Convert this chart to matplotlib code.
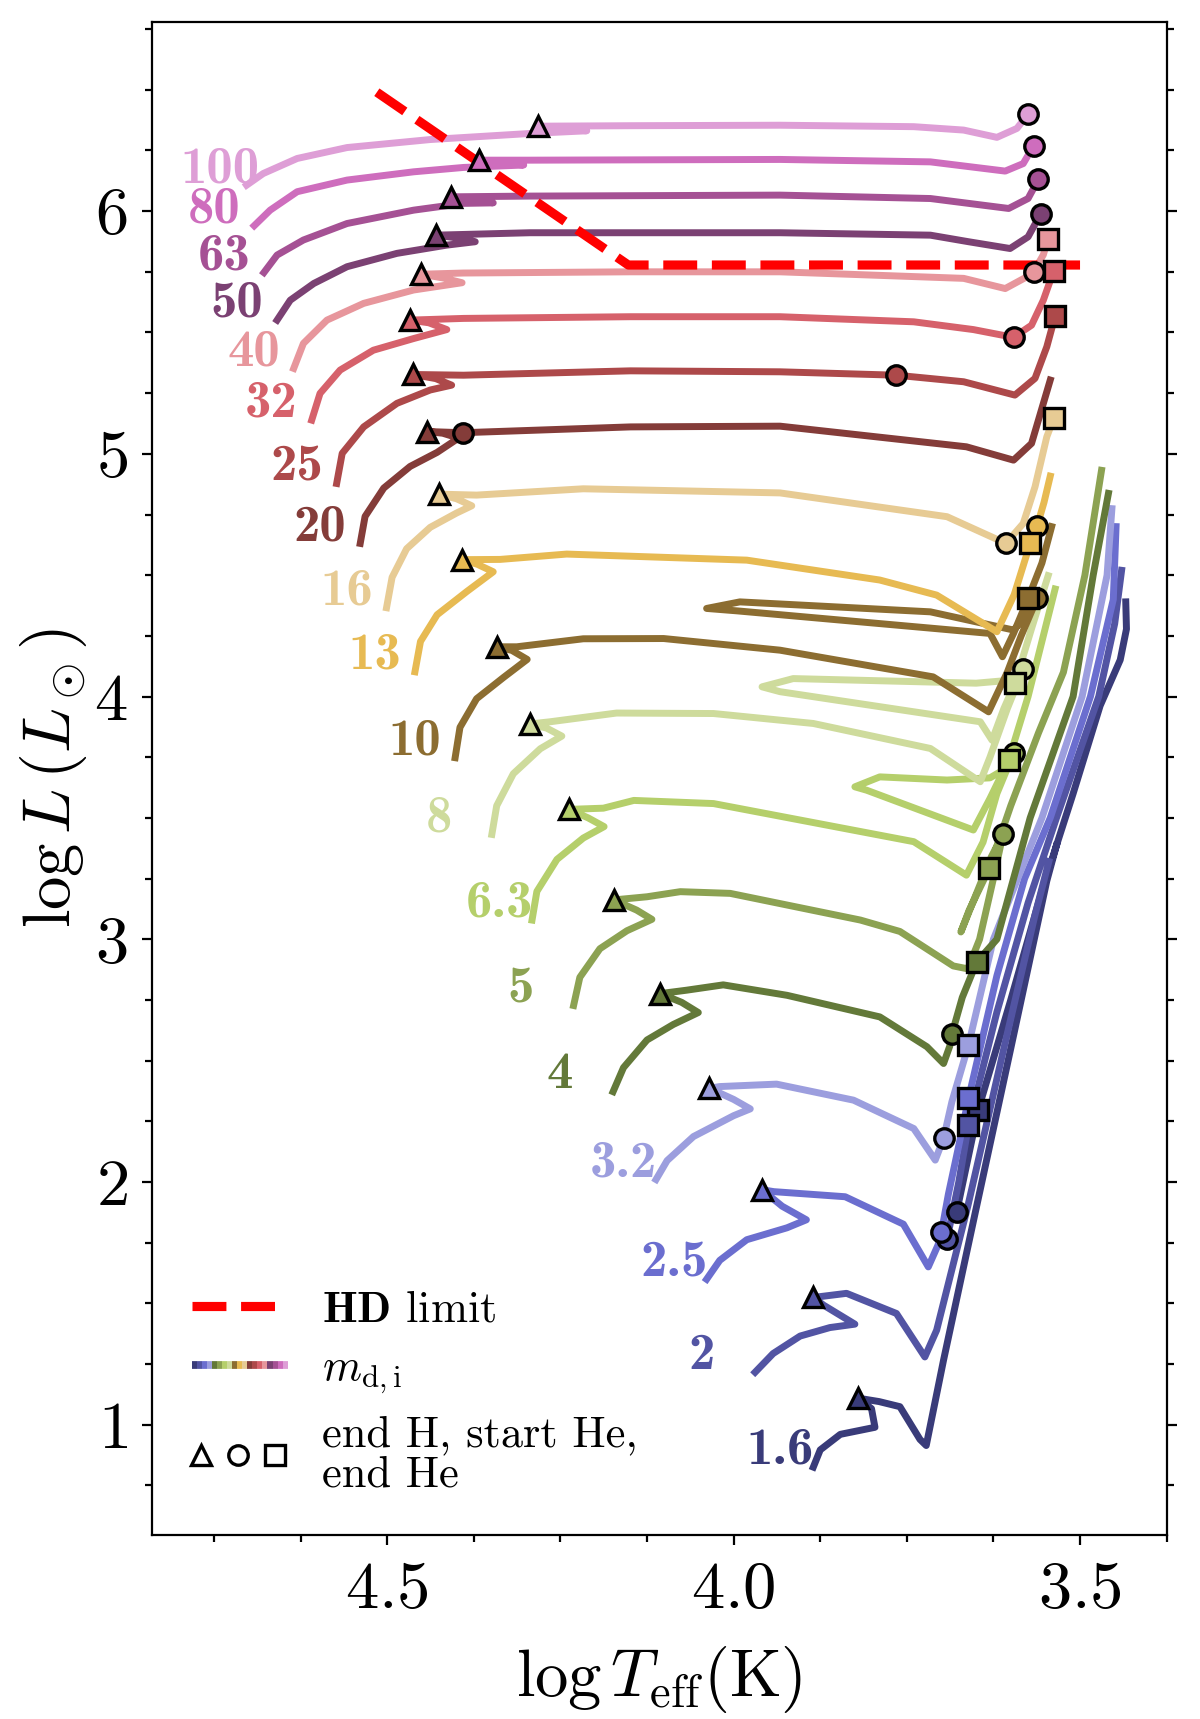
import numpy as np
import matplotlib
matplotlib.use('Agg')
import matplotlib.pyplot as plt
from matplotlib.ticker import MultipleLocator
from matplotlib.lines import Line2D
from matplotlib.collections import LineCollection
from matplotlib.legend_handler import HandlerBase

plt.rcParams.update({
    'font.family': 'serif',
    'font.serif': ['cmr10'],
    'mathtext.fontset': 'cm',
    'axes.formatter.use_mathtext': True,
    'axes.unicode_minus': False,
})

nan = np.nan

# ── Track data (log Teff, log L) ─────────────────────────────────────────────
masses = ['1.6', '2', '2.5', '3.2', '4', '5', '6.3', '8', '10', '13',
          '16', '20', '25', '32', '40', '50', '63', '80', '100']

logT_1p6 = [3.885, 3.875, 3.846, 3.796, 3.801, 3.820, 3.790, 3.760, 3.731, 3.722,
            3.697, 3.651, 3.600, 3.548, 3.534, nan,
            3.678, 3.647, 3.600, 3.555, 3.510, 3.471, 3.442, 3.433, 3.434]
logL_1p6 = [0.825, 0.896, 0.960, 0.989, 1.066, 1.109, 1.095, 1.074, 0.939, 0.914,
            1.266, 1.877, 2.550, 3.240, 3.387, nan,
            1.877, 2.296, 2.750, 3.200, 3.600, 3.962, 4.151, 4.278, 4.390]

logT_2 = [3.969, 3.943, 3.904, 3.861, 3.825, 3.870, 3.885, 3.837, 3.765, 3.724,
          3.707, 3.662, 3.610, 3.565, 3.545, nan,
          3.692, 3.675, 3.661, 3.620, 3.575, 3.534, 3.473, 3.450, 3.440]
logL_2 = [1.216, 1.293, 1.365, 1.400, 1.414, 1.492, 1.524, 1.541, 1.458, 1.279,
          1.389, 1.900, 2.550, 3.100, 3.320, nan,
          1.763, 2.000, 2.234, 2.700, 3.150, 3.500, 4.000, 4.300, 4.520]

logT_2p5 = [4.039, 4.020, 3.981, 3.923, 3.895, 3.930, 3.959, 3.942, 3.839, 3.755,
            3.719, 3.705, 3.700, 3.690, 3.675, 3.661, 3.620, 3.580, 3.543, 3.485,
            3.452, 3.448]
logL_2p5 = [1.599, 1.677, 1.762, 1.811, 1.844, 1.900, 1.968, 1.960, 1.939, 1.826,
            1.650, 1.740, 1.794, 1.950, 2.150, 2.344, 2.850, 3.250, 3.500, 4.000,
            4.400, 4.700]

logT_3p2 = [4.112, 4.096, 4.058, 4.000, 3.976, 4.000, 4.035, 4.020, 3.938, 3.827,
            3.740, 3.709, 3.697, 3.685, 3.661, 3.625, 3.555, 3.497, 3.461, 3.454]
logL_3p2 = [2.010, 2.088, 2.187, 2.273, 2.301, 2.340, 2.386, 2.393, 2.403, 2.337,
            2.220, 2.090, 2.179, 2.330, 2.564, 3.000, 3.500, 4.000, 4.500, 4.774]

logT_4 = [4.174, 4.159, 4.125, 4.087, 4.051, 4.075, 4.106, 4.068, 4.015, 3.923,
          3.789, 3.721, 3.697, 3.688, 3.685, 3.670, 3.649, 3.620, 3.572, 3.510,
          3.481, 3.459]
logL_4 = [2.372, 2.471, 2.585, 2.649, 2.698, 2.740, 2.776, 2.790, 2.812, 2.769,
          2.680, 2.557, 2.488, 2.560, 2.609, 2.760, 2.907, 3.000, 3.500, 4.000,
          4.500, 4.837]

logT_5 = [4.231, 4.222, 4.193, 4.154, 4.118, 4.140, 4.173, 4.125, 4.077, 4.005,
          3.817, 3.760, 3.683, 3.662, 3.645, 3.625, 3.611, 3.628, 3.672, 3.660,
          3.631, 3.600, 3.560, 3.524, 3.493, 3.469]
logL_5 = [2.727, 2.843, 2.961, 3.035, 3.082, 3.120, 3.162, 3.175, 3.196, 3.189,
          3.079, 3.032, 2.890, 2.878, 3.000, 3.250, 3.434, 3.340, 3.030, 3.120,
          3.292, 3.550, 3.850, 4.100, 4.500, 4.932]

logT_6p3 = [4.291, 4.284, 4.255, 4.217, 4.187, 4.210, 4.238, 4.188, 4.144, 4.029,
            3.740, 3.664, 3.640, 3.620, 3.596, 3.615, 3.630, 3.692, 3.789, 3.825,
            3.808, 3.654, 3.630, 3.603, 3.575, 3.553, 3.536]
logL_6p3 = [3.079, 3.197, 3.329, 3.417, 3.464, 3.500, 3.535, 3.540, 3.572, 3.559,
            3.402, 3.264, 3.400, 3.600, 3.766, 3.690, 3.665, 3.656, 3.669, 3.628,
            3.614, 3.450, 3.580, 3.738, 4.000, 4.250, 4.443]

logT_8 = [4.349, 4.342, 4.318, 4.279, 4.248, 4.270, 4.294, 4.265, 4.169, 4.029,
          3.885, 3.716, 3.644, 3.630, 3.605, 3.582, 3.610, 3.650, 3.914, 3.959,
          3.933, 3.644, 3.627, 3.610, 3.594, 3.570, 3.546]
logL_8 = [3.432, 3.550, 3.682, 3.785, 3.837, 3.870, 3.887, 3.896, 3.932, 3.930,
          3.889, 3.786, 3.649, 3.750, 3.950, 4.112, 4.065, 4.055, 4.074, 4.040,
          4.020, 3.896, 3.820, 3.950, 4.054, 4.280, 4.498]

logT_10 = [4.402, 4.395, 4.371, 4.332, 4.298, 4.320, 4.342, 4.313, 4.217, 4.101,
           3.933, 3.712, 3.632, 3.605, 3.585, 3.562, 3.580, 3.596, 3.716, 3.991,
           4.039, 3.995, 3.630, 3.612, 3.596, 3.575, 3.555, 3.541]
logL_10 = [3.748, 3.873, 3.991, 4.079, 4.153, 4.190, 4.205, 4.205, 4.238, 4.239,
           4.191, 4.081, 3.937, 4.100, 4.250, 4.404, 4.320, 4.274, 4.349, 4.390,
           4.363, 4.353, 4.260, 4.164, 4.260, 4.404, 4.550, 4.700]

logT_13 = [4.460, 4.452, 4.428, 4.385, 4.347, 4.370, 4.392, 4.337, 4.241, 3.981,
           3.789, 3.707, 3.620, 3.595, 3.572, 3.562, 3.552, 3.543]
logL_13 = [4.102, 4.227, 4.337, 4.433, 4.514, 4.545, 4.564, 4.565, 4.587, 4.562,
           4.480, 4.418, 4.267, 4.420, 4.631, 4.702, 4.800, 4.908]

logT_16 = [4.501, 4.493, 4.472, 4.438, 4.400, 4.378, 4.400, 4.426, 4.371, 4.217,
           3.933, 3.692, 3.607, 3.582, 3.565, 3.548, 3.538]
logL_16 = [4.366, 4.491, 4.609, 4.697, 4.756, 4.786, 4.815, 4.834, 4.830, 4.856,
           4.839, 4.741, 4.631, 4.713, 4.864, 5.070, 5.146]

logT_20 = [4.539, 4.532, 4.505, 4.467, 4.428, 4.397, 4.420, 4.443, 4.391, 4.149,
           3.933, 3.664, 3.596, 3.570, 3.543]
logL_20 = [4.631, 4.742, 4.859, 4.948, 5.006, 5.065, 5.085, 5.092, 5.087, 5.111,
           5.114, 5.029, 4.974, 5.043, 5.304]

logT_25 = [4.573, 4.565, 4.534, 4.486, 4.438, 4.407, 4.430, 4.463, 4.390, 4.149,
           3.933, 3.765, 3.668, 3.594, 3.565, 3.548, 3.536]
logL_25 = [4.878, 5.002, 5.111, 5.208, 5.263, 5.283, 5.310, 5.327, 5.324, 5.342,
           5.338, 5.324, 5.297, 5.242, 5.311, 5.441, 5.567]

logT_32 = [4.609, 4.597, 4.568, 4.520, 4.462, 4.414, 4.440, 4.467, 4.390, 4.149,
           3.933, 3.740, 3.654, 3.596, 3.570, 3.553, 3.538]
logL_32 = [5.139, 5.249, 5.345, 5.427, 5.475, 5.512, 5.540, 5.551, 5.558, 5.565,
           5.565, 5.544, 5.512, 5.480, 5.530, 5.633, 5.754]

logT_40 = [4.635, 4.621, 4.587, 4.534, 4.462, 4.392, 4.420, 4.451, 4.390, 4.149,
           3.933, 3.668, 3.608, 3.577, 3.567, 3.553, 3.546]
logL_40 = [5.352, 5.455, 5.551, 5.620, 5.675, 5.705, 5.725, 5.740, 5.745, 5.750,
           5.750, 5.723, 5.681, 5.729, 5.750, 5.820, 5.887]

logT_50 = [4.659, 4.640, 4.606, 4.558, 4.486, 4.414, 4.373, 4.400, 4.430, 4.294,
           3.933, 3.716, 3.661, 3.601, 3.575, 3.557]
logL_50 = [5.551, 5.633, 5.702, 5.771, 5.826, 5.860, 5.874, 5.890, 5.901, 5.911,
           5.911, 5.901, 5.874, 5.846, 5.894, 5.988]

logT_63 = [4.678, 4.659, 4.621, 4.558, 4.462, 4.390, 4.347, 4.380, 4.408, 4.294,
           3.933, 3.716, 3.603, 3.575, 3.560]
logL_63 = [5.747, 5.819, 5.881, 5.949, 6.004, 6.032, 6.034, 6.050, 6.059, 6.062,
           6.066, 6.052, 6.011, 6.052, 6.131]

logT_80 = [4.692, 4.669, 4.630, 4.558, 4.462, 4.390, 4.303, 4.340, 4.367, 4.294,
           3.933, 3.716, 3.608, 3.582, 3.567]
logL_80 = [5.940, 6.004, 6.080, 6.128, 6.162, 6.180, 6.190, 6.200, 6.210, 6.210,
           6.213, 6.203, 6.165, 6.196, 6.269]

logT_100 = [4.703, 4.679, 4.630, 4.558, 4.438, 4.294, 4.212, 4.250, 4.283, 4.149,
            3.933, 3.740, 3.668, 3.620, 3.591, 3.575]
logL_100 = [6.107, 6.155, 6.217, 6.262, 6.295, 6.320, 6.331, 6.340, 6.350, 6.352,
            6.354, 6.348, 6.334, 6.304, 6.341, 6.400]

# phase markers: end of H burning, start of He burning, end of He burning
endH_T = [3.820, 3.885, 3.959, 4.035, 4.106, 4.173, 4.238, 4.294, 4.342, 4.392,
          4.426, 4.443, 4.463, 4.467, 4.451, 4.430, 4.408, 4.367, 4.283]
endH_L = [1.109, 1.524, 1.968, 2.386, 2.776, 3.162, 3.535, 3.887, 4.205, 4.564,
          4.834, 5.092, 5.327, 5.551, 5.740, 5.901, 6.059, 6.210, 6.352]
startHe_T = [3.678, 3.692, 3.700, 3.697, 3.685, 3.611, 3.596, 3.582, 3.562, 3.562,
             3.607, 4.391, 3.765, 3.596, 3.567, 3.557, 3.560, 3.567, 3.575]
startHe_L = [1.877, 1.763, 1.794, 2.179, 2.609, 3.434, 3.766, 4.112, 4.404, 4.702,
             4.631, 5.087, 5.324, 5.480, 5.750, 5.988, 6.131, 6.269, 6.400]
endHe_T = [3.647, 3.661, 3.661, 3.661, 3.649, 3.631, 3.603, 3.594, 3.575, 3.572,
           3.538, nan, 3.536, 3.538, 3.546, nan, nan, nan, nan]
endHe_L = [2.296, 2.234, 2.344, 2.564, 2.907, 3.292, 3.738, 4.054, 4.404, 4.631,
           5.146, nan, 5.567, 5.754, 5.887, nan, nan, nan, nan]

# Humphreys-Davidson limit
hd_T = [4.515, 4.152, 3.500]
hd_L = [6.490, 5.778, 5.778]

track_colors = ['#393b79', '#5254a3', '#6b6ecf', '#9c9ede', '#637939', '#8ca252',
                '#b5cf6b', '#cedb9c', '#8c6d31', '#e7ba52', '#e7cb94', '#843c39',
                '#ad494a', '#d6616b', '#e7969c', '#7b4173', '#a55194', '#ce6dbd',
                '#de9ed6']

tracks = [(logT_1p6, logL_1p6), (logT_2, logL_2), (logT_2p5, logL_2p5),
          (logT_3p2, logL_3p2), (logT_4, logL_4), (logT_5, logL_5),
          (logT_6p3, logL_6p3), (logT_8, logL_8), (logT_10, logL_10),
          (logT_13, logL_13), (logT_16, logL_16), (logT_20, logL_20),
          (logT_25, logL_25), (logT_32, logL_32), (logT_40, logL_40),
          (logT_50, logL_50), (logT_63, logL_63), (logT_80, logL_80),
          (logT_100, logL_100)]


# ── Legend handlers ──────────────────────────────────────────────────────────
class HandlerRainbow(HandlerBase):
    def __init__(self, colors, lw=2.8, **kw):
        super().__init__(**kw)
        self.colors = colors
        self.lw = lw

    def create_artists(self, legend, orig_handle, xdescent, ydescent,
                       width, height, fontsize, trans):
        n = len(self.colors)
        xs = np.linspace(-xdescent, -xdescent + width, n + 1)
        y = -ydescent + height / 2
        segs = [[(xs[i], y), (xs[i + 1], y)] for i in range(n)]
        lc = LineCollection(segs, colors=self.colors, linewidths=self.lw,
                            transform=trans)
        return [lc]


class HandlerPhases(HandlerBase):
    def create_artists(self, legend, orig_handle, xdescent, ydescent,
                       width, height, fontsize, trans):
        y = -ydescent + height / 2
        out = []
        for k, m in enumerate(['^', 'o', 's']):
            x = -xdescent + width * (0.10 + 0.385 * k)
            out.append(Line2D([x], [y], marker=m, ms=7, mfc='white', mec='k',
                              mew=1.2, ls='none', transform=trans))
        return out


# ── Plot ─────────────────────────────────────────────────────────────────────
fig = plt.figure(figsize=(6, 8.595), dpi=200)
ax = fig.add_axes([0.1264, 0.1070, 0.8458, 0.8803])

for (T, L), c in zip(tracks, track_colors):
    ax.plot(T, L, color=c, lw=2.5, zorder=2)

for m, (T, L), c in zip(masses, tracks, track_colors):
    ax.text(T[0] + 0.096, L[0] + 0.013, m, color=c, family='cmb10',
            fontsize=19, ha='left', va='baseline', zorder=2)

ax.plot(hd_T, hd_L, color='red', ls='--', lw=3.3, zorder=3)

for k, c in enumerate(track_colors):
    ax.plot(endH_T[k], endH_L[k], marker='^', ms=7.5, mfc=c, mec='k', mew=1.2,
            ls='none', zorder=4)
for k, c in enumerate(track_colors):
    ax.plot(startHe_T[k], startHe_L[k], marker='o', ms=7, mfc=c, mec='k',
            mew=1.2, ls='none', zorder=4)
for k, c in enumerate(track_colors):
    if not np.isnan(endHe_T[k]):
        ax.plot(endHe_T[k], endHe_L[k], marker='s', ms=7, mfc=c, mec='k',
                mew=1.2, ls='none', zorder=4)

ax.set_xlim(4.84, 3.375)
ax.set_ylim(0.545, 6.78)
ax.xaxis.set_major_locator(MultipleLocator(0.5))
ax.xaxis.set_minor_locator(MultipleLocator(0.125))
ax.yaxis.set_major_locator(MultipleLocator(1))
ax.yaxis.set_minor_locator(MultipleLocator(0.25))
ax.tick_params(which='both', direction='out', right=True, top=False,
               width=0.8, labelsize=24)
ax.tick_params(which='major', length=3.6)
ax.tick_params(which='minor', length=2.4)
ax.tick_params(axis='x', pad=6)
ax.tick_params(axis='y', pad=5)
for s in ax.spines.values():
    s.set_linewidth(0.8)

ax.set_xlabel(r'$\log T_{\rm eff}(\rm K)$', fontsize=24, labelpad=8)
ax.set_ylabel(r'$\log L\,(L_\odot)$', fontsize=24, labelpad=2)

h_hd = Line2D([], [], color='red', ls='--', lw=3.3)
h_md = Line2D([], [])
h_ph = Line2D([], [])
leg = ax.legend([h_hd, h_md, h_ph],
                [r'$\mathbf{HD}$ limit', r'$m_{\rm d,i}$',
                 'end H, start He,\nend He'],
                handler_map={h_md: HandlerRainbow(track_colors),
                             h_ph: HandlerPhases()},
                loc='lower left', frameon=False, fontsize=16,
                handlelength=2.16, handletextpad=0.77, labelspacing=0.42)
for t in leg.get_texts():
    t.set_linespacing(1.0)

fig.savefig('out.png', dpi=200)
